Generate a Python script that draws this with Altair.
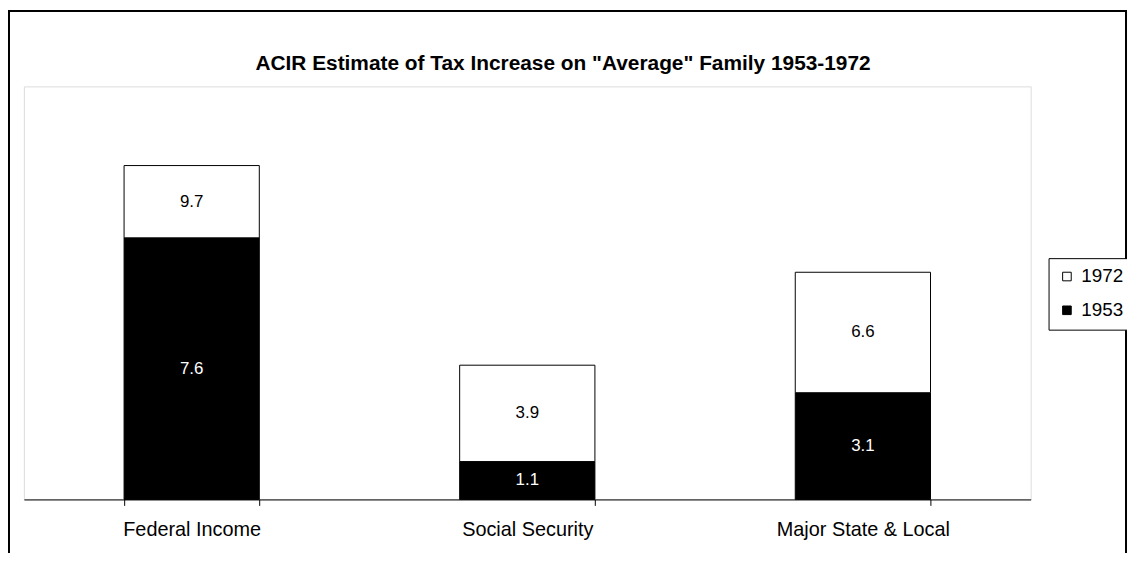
import altair as alt
import pandas as pd

categories = ["Federal Income", "Social Security", "Major State & Local"]
values_1953 = [7.6, 1.1, 3.1]
values_1972 = [9.7, 3.9, 6.6]
series_names = ["1972", "1953"]
title_text = 'ACIR Estimate of Tax Increase on "Average" Family 1953-1972'

rows = []
for c, a, b in zip(categories, values_1953, values_1972):
    rows.append({"category": c, "series": "1953", "start": 0.0, "end": a, "label": f"{a:.1f}"})
    rows.append({"category": c, "series": "1972", "start": a, "end": b, "label": f"{b:.1f}"})
df = pd.DataFrame(rows)

FONT = "Liberation Sans"
W, H = 1014, 416

xenc = alt.X(
    "category:N",
    sort=categories,
    scale=alt.Scale(paddingInner=0.597, paddingOuter=0.2985),
    axis=alt.Axis(
        title=None, labelAngle=0, domainColor="black", domainWidth=1,
        tickColor="black", tickSize=6, tickBand="extent", labelColor="black",
        labelFont=FONT, labelFontSize=20, labelPadding=14,
    ),
)
yscale = alt.Scale(domain=[0, 12], nice=False, zero=True)

base = alt.Chart(df)

bars = base.mark_bar(stroke="black", strokeWidth=1).encode(
    x=xenc,
    y=alt.Y("start:Q", scale=yscale, axis=None),
    y2="end:Q",
    fill=alt.Fill(
        "series:N",
        scale=alt.Scale(domain=series_names, range=["white", "black"]),
        sort=series_names,
        legend=alt.Legend(
            title=None, orient="none", legendX=1032, legendY=173,
            strokeColor="black", fillColor="white", padding=9,
            symbolType="square", symbolSize=75, symbolStrokeColor="black",
            symbolStrokeWidth=1, labelFont=FONT, labelFontSize=19,
            labelColor="black", rowPadding=14, labelOffset=5,
        ),
    ),
)

texts = base.transform_calculate(mid="(datum.start + datum.end) / 2").mark_text(
    font=FONT, fontSize=17, baseline="middle", align="center"
).encode(
    x=alt.X("category:N", sort=categories),
    y=alt.Y("mid:Q", scale=yscale),
    text="label:N",
    color=alt.Color(
        "series:N",
        scale=alt.Scale(domain=series_names, range=["black", "white"]),
        legend=None,
    ),
)

deco = alt.Chart(pd.DataFrame({"t": [title_text]}))

frame = deco.mark_rect(
    fill="transparent", stroke="black", strokeWidth=2
).encode(
    x=alt.value(-15), x2=alt.value(1110), y=alt.value(-76), y2=alt.value(700)
)

title = deco.mark_text(
    font=FONT, fontSize=21, fontWeight="bold", color="black",
    align="center", baseline="middle",
).encode(x=alt.value(543), y=alt.value(-23), text="t:N")

chart = alt.layer(frame, title, bars, texts).properties(
    width=W,
    height=H,
    autosize=alt.AutoSizeParams(type="none"),
    padding={"left": 16, "top": 77, "right": 97, "bottom": 52},
).configure_view(stroke="#8a8a8a", strokeWidth=1.5).configure(background="white")

chart.save("out.html", embed_options={"renderer": "svg", "actions": False})
